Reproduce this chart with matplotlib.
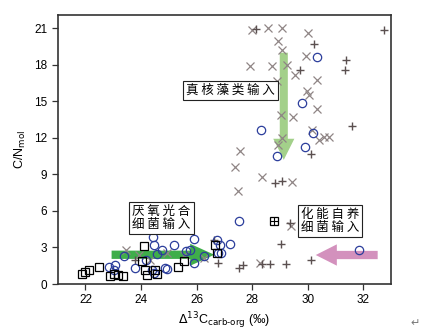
import matplotlib
matplotlib.use('Agg')
import matplotlib.pyplot as plt

# ── data ─────────────────────────────────────────────────────────────────────
# gray crosses
cross_x = [28.00, 28.57, 29.09, 30.01, 28.94, 29.09, 29.93, 27.91, 28.73, 29.24,
           29.54, 28.91, 30.33, 29.96, 30.03, 30.33, 29.03, 29.47, 30.17, 30.41,
           30.59, 30.77, 29.09, 28.94, 27.58, 27.40, 28.36, 27.48, 29.45, 29.39,
           28.30, 23.47, 23.91, 24.31, 24.93, 25.53, 26.26]
cross_y = [20.81, 21.01, 21.01, 20.60, 19.91, 19.23, 18.68, 17.86, 17.86, 18.00,
           17.17, 16.62, 16.76, 15.80, 15.53, 14.38, 13.83, 13.70, 12.60, 11.83,
           12.05, 12.05, 11.97, 11.42, 10.95, 9.64, 8.77, 7.67, 8.36, 4.79,
           1.75, 2.82, 2.41, 1.97, 2.55, 2.41, 2.14]

# dark plus signs
plus_x = [28.15, 30.23, 31.37, 31.35, 29.72, 32.75, 31.58, 30.11, 28.84, 29.09,
          29.36, 29.03, 30.12, 29.22, 28.65, 28.34, 27.66, 27.54, 26.76, 26.62,
          23.79]
plus_y = [20.95, 19.72, 18.38, 17.53, 17.53, 20.87, 13.00, 10.68, 8.32, 8.49,
          5.04, 3.29, 1.97, 1.68, 1.68, 1.68, 1.60, 1.29, 1.75, 3.64,
          2.00]

# blue open circles
circ_x = [22.83, 23.01, 23.07, 23.37, 23.79, 24.43, 24.48, 24.57, 24.75, 24.19,
          24.39, 24.48, 24.87, 24.93, 25.20, 25.63, 25.90, 25.78, 25.90, 26.26,
          26.74, 26.86, 27.20, 26.76, 26.88, 27.52, 31.85, 28.88, 29.90, 30.20,
          28.33, 29.78, 30.35]
circ_y = [1.37, 1.18, 1.56, 2.28, 1.31, 3.84, 3.23, 2.47, 2.82, 2.00,
          1.15, 0.88, 1.31, 1.21, 3.23, 2.74, 3.70, 2.82, 1.73, 2.28,
          3.64, 3.23, 3.26, 2.57, 2.57, 5.14, 2.79, 10.54, 11.28, 12.38,
          12.60, 14.85, 18.60]

# black open squares
sq_x = [21.87, 21.99, 22.13, 22.49, 22.89, 23.04, 23.17, 23.35, 24.10, 24.03,
        24.15, 24.21, 24.51, 24.57, 25.32, 25.53, 26.68, 26.74]
sq_y = [0.85, 0.99, 1.13, 1.42, 0.68, 0.85, 0.76, 0.68, 3.10, 1.87,
        1.18, 0.76, 1.18, 0.82, 1.37, 1.87, 3.23, 2.55]

# square with cross
sqx_x = [28.78]
sqx_y = [5.15]

fig = plt.figure(figsize=(4.33, 3.35), dpi=100)
ax = fig.add_axes([0.1333, 0.1522, 0.7697, 0.8039])

cjk = ['Noto Sans CJK SC', 'DejaVu Sans']
num = 'Liberation Sans'

# arrows (under the markers)
ax.arrow(29.14, 18.98, 0, -8.79, width=0.29, head_width=0.76, head_length=1.73,
         length_includes_head=True, color='#a3d08a', lw=0, zorder=1)
ax.arrow(22.94, 2.40, 3.70, 0, width=0.68, head_width=1.80, head_length=0.87,
         length_includes_head=True, color='#3fae4a', lw=0, zorder=1)
ax.arrow(32.52, 2.38, -2.23, 0, width=0.68, head_width=1.75, head_length=0.76,
         length_includes_head=True, color='#d391bd', lw=0, zorder=1)

ax.plot(cross_x, cross_y, 'x', color='#8f8585', ms=5.5, mew=0.9, zorder=3)
ax.plot(plus_x, plus_y, '+', color='#5b5050', ms=6, mew=1.0, zorder=3)
ax.plot(circ_x, circ_y, 'o', mfc='none', mec='#2c3e9c', ms=6, mew=0.9, zorder=3)
ax.plot(sq_x, sq_y, 's', mfc='none', mec='black', ms=5.5, mew=0.9, zorder=3)
ax.plot(sqx_x, sqx_y, 's', mfc='none', mec='black', ms=5.5, mew=0.9, zorder=3)
ax.plot(sqx_x, sqx_y, '+', color='black', ms=5.5, mew=0.8, zorder=3)

box = dict(boxstyle='square,pad=0.25', facecolor='white', edgecolor='#222222', lw=0.8)
ax.text(27.23, 15.9, '真 核 藻 类 输 入', family=cjk, fontsize=9, ha='center',
        va='center', bbox=box, zorder=4)
ax.text(24.74, 5.4, '厌 氧 光 合\n细 菌 输 入', family=cjk, fontsize=9, ha='center',
        va='center', bbox=box, linespacing=1.0, zorder=4)
ax.text(30.81, 5.2, '化 能 自 养\n细 菌 输 入', family=cjk, fontsize=9, ha='center',
        va='center', bbox=box, linespacing=1.0, zorder=4)

ax.set_xlim(21, 33)
ax.set_ylim(0, 22.1)
ax.set_xticks([22, 24, 26, 28, 30, 32])
ax.set_yticks([0, 3, 6, 9, 12, 15, 18, 21])
ax.tick_params(direction='out', length=4, width=0.9, labelsize=8.5, color='#333333')
for lab in ax.get_xticklabels() + ax.get_yticklabels():
    lab.set_family(num)
for s in ax.spines.values():
    s.set_color('#333333')
    s.set_linewidth(1.2)

ax.set_xlabel(r'$\Delta^{13}$C$_{\rm carb\text{-}org}$ (‰)', family=num, fontsize=9, labelpad=3)
ax.set_ylabel(r'C/N$_{\rm mol}$', family=num, fontsize=9, labelpad=4)

fig.text(0.958, 0.036, '↵', fontsize=8, color='#777777', ha='center', va='center')

fig.savefig('out.png', dpi=100)
